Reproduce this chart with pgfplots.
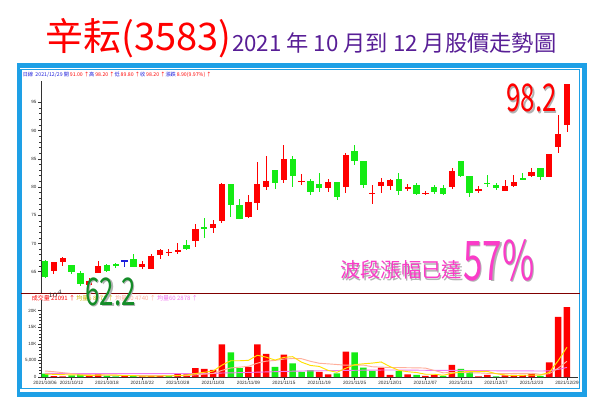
\documentclass[border=0pt]{standalone}
\usepackage{fontspec}
\setmainfont{Liberation Sans}
\newfontfamily\cjk{Noto Sans CJK TC}
\usepackage{pgfplots}
\usepackage{pgfplotstable}
\pgfplotsset{compat=1.18}

\definecolor{upred}{RGB}{255,0,0}
\definecolor{dngreen}{RGB}{20,235,20}
\definecolor{flatblue}{RGB}{30,30,220}
\definecolor{frameblue}{RGB}{30,160,230}
\definecolor{sepred}{RGB}{128,0,0}
\definecolor{titlepurple}{RGB}{88,30,150}
\definecolor{ma5}{RGB}{255,225,0}
\definecolor{ma10}{RGB}{255,175,155}
\definecolor{ma60}{RGB}{240,120,240}
\definecolor{pinktxt}{RGB}{250,60,200}
\definecolor{lowgreen}{RGB}{20,140,40}

% candles: i open high low close
\pgfplotstableread{
i o h l c
1 65.2 66.8 64.6 66.7
2 66.7 67.6 66.0 67.5
5 62.7 63.8 62.2 63.4
6 64.7 66.9 64.7 66.0
11 65.8 66.9 65.4 66.3
12 65.5 68.2 65.5 67.8
13 67.9 69.0 67.2 68.8
14 68.3 69.0 67.8 68.5
15 68.6 70.0 68.1 68.8
17 70.5 73.4 69.4 72.5
19 72.7 74.2 71.9 73.5
20 74.0 80.7 73.7 80.6
23 74.6 78.6 74.5 77.4
24 77.1 84.5 76.0 80.5
25 80.05 85.5 79.5 81.05
27 81.2 87.4 80.65 84.95
29 81.0 82.3 80.35 81.15
32 79.8 81.5 79.2 80.8
34 80.05 86.0 78.9 85.65
37 78.85 80.35 77.0 79.0
38 80.2 81.6 78.9 80.8
39 80.2 81.5 79.5 81.2
41 79.65 80.6 79.3 80.05
43 78.85 79.3 78.6 79.0
46 80.05 83.3 79.6 82.85
49 79.25 80.2 79.0 79.6
52 79.3 81.2 79.3 80.2
53 80.25 82.1 80.0 80.95
55 82.0 83.3 81.8 82.7
57 81.8 85.8 81.8 85.8
58 87.0 92.75 86.0 89.3
59 91.0 98.2 89.8 98.2
}\upcandles

\pgfplotstableread{
i o h l c
0 66.9 67.0 64.0 64.1
3 66.1 66.2 64.6 64.9
4 64.8 65.1 62.5 62.8
7 66.2 66.4 65.1 65.2
8 66.3 66.6 65.6 66.15
10 67.2 68.2 65.8 65.8
16 69.7 70.6 69.0 69.1
18 72.9 74.5 70.9 72.75
21 80.5 80.6 74.7 76.9
22 76.8 77.9 74.3 74.3
26 83.0 83.0 79.6 80.7
28 84.9 85.5 80.05 82.0
30 81.05 81.4 78.6 79.05
31 80.5 82.4 79.05 79.9
33 80.8 80.8 77.7 78.3
35 86.4 87.4 83.9 84.6
36 84.6 84.6 79.9 80.35
40 81.35 82.4 78.6 79.35
42 80.35 80.65 78.6 78.75
44 79.95 80.35 78.75 79.2
45 79.75 80.35 78.6 78.75
47 84.6 84.6 81.9 81.95
48 81.95 81.95 78.3 79.0
50 80.7 82.1 80.05 80.55
51 80.35 80.7 79.5 79.75
54 81.6 82.5 81.2 81.4
56 83.3 83.3 81.2 81.8
}\dncandles

\pgfplotstableread{
i o h l c
9 66.9 67.0 65.9 67.0
}\flatcandles

% volume
\pgfplotstableread{
i v
1 300
2 200
5 250
6 1000
9 250
11 200
12 300
13 500
15 900
16 800
17 2660
18 2450
19 2140
20 9800
23 3060
24 9800
25 6940
27 6730
31 1530
32 816
34 7650
38 2860
39 610
41 816
43 306
44 610
46 3670
49 200
50 610
52 510
53 610
54 610
55 918
57 4390
58 18150
59 21091
}\upvol

\pgfplotstableread{
i v
0 1000
3 500
4 900
7 400
8 200
10 300
14 300
21 7440
22 2660
26 3060
28 4080
29 1530
30 2040
33 1120
35 7450
36 2860
37 1840
40 1840
42 610
45 306
47 2450
48 1530
51 200
56 306
}\dnvol

\pgfplotstableread{
i a b
0 900 1800
1 800 1600
2 700 1300
3 650 1000
4 580 800
5 430 700
6 570 650
7 610 600
8 550 550
9 420 500
10 430 430
11 270 420
12 250 430
13 310 430
14 320 370
15 440 435
16 560 415
17 1032 641
18 1422 866
19 1790 1055
20 3570 2005
21 4898 2729
22 4898 2965
23 5020 3221
24 6552 4171
25 5980 4775
26 5104 5001
27 5918 5408
28 6122 5571
29 4468 5510
30 3488 4734
31 3182 4143
32 1999 3959
33 1407 3765
34 2631 3550
35 3713 3601
36 3979 3581
37 4184 3092
38 4532 2970
39 3124 2878
40 2002 2858
41 1593 2786
42 1347 2766
43 836 2684
44 836 1980
45 530 1266
46 1100 1347
47 1468 1408
48 1713 1275
49 1631 1234
50 1692 1111
51 998 1049
52 610 1039
53 426 1070
54 508 1070
55 570 1131
56 591 794
57 1367 988
58 4875 2650
59 8971 4740
}\mavol

\pgfplotstableread{
i v
0 1100
4 1050
8 1000
12 1000
16 1020
19 1050
20 1200
22 1300
24 1450
26 1600
28 1750
30 1850
32 1900
34 2000
36 2050
38 2100
40 2100
42 2050
44 2000
46 2000
48 1950
50 1900
52 1850
54 1850
56 1800
57 1850
58 2300
59 2878
}\malong

\pgfplotsset{
  wick/.style={draw=none, mark=none, forget plot,
    error bars/.cd, y dir=both, y explicit, error mark=none,
    error bar style={draw=#1, line width=0.65pt}},
  body/.style={draw=none, mark=none, forget plot,
    error bars/.cd, y dir=both, y explicit, error mark=none,
    error bar style={draw=#1, line width=4.7pt}},
}

% text with a grey shadow behind it
\newcommand\shadetext[5]{%
  \node[anchor=base west, inner sep=0, text=black!30] at (#1+1.6,#2-1.8) {#4#5};
  \node[anchor=base west, inner sep=0, text=#3] at (#1,#2) {#4#5};
}

\begin{document}
\begin{tikzpicture}[x=0.75pt, y=0.75pt]
\path[use as bounding box] (0,0) rectangle (600,404);
\fill[white] (0,0) rectangle (600,404);

% frame
\fill[frameblue] (16.5,7) rectangle (587,340.5);
\fill[white] (19.8,12.2) rectangle (581.6,336.4);
\draw[frameblue, line width=0.9pt] (21,15.2) rectangle (579.8,334.2);
\draw[sepred, line width=1pt] (21,110.5) -- (579.8,110.5);

% title
\node[anchor=base west, inner sep=0, text=upred, font=\cjk\fontsize{28.5}{30}\selectfont] at (45,353) {辛耘(3583)};
\node[anchor=base west, inner sep=0, text=titlepurple, font=\cjk\fontsize{16.7}{18}\selectfont] at (232,352) {2021 年 10 月到 12 月股價走勢圖};

% price panel
\begin{axis}[
  at={(30.75pt,83.03pt)}, anchor=south west,
  scale only axis, width=402.75pt, height=159.45pt,
  xmin=-0.452, xmax=60.25, ymin=61.17, ymax=98.83,
  axis x line=none, axis y line*=left,
  axis line style={black!80, line width=0.5pt},
  xtick=\empty,
  ytick={65,70,75,80,85,90,95},
  yticklabels={65,70,75,80,85,90,95},
  minor y tick num=4,
  tick align=outside,
  major tick length=2.2pt, minor tick length=1.2pt,
  tick style={black!80, line width=0.4pt},
  yticklabel style={font=\fontsize{3.4}{4}\selectfont, text=black!85, inner sep=1pt},
  clip=false,
]
\addplot[wick=upred] table[x=i, y=c, y error plus expr=\thisrow{h}-\thisrow{c}, y error minus expr=\thisrow{c}-\thisrow{l}] {\upcandles};
\addplot[wick=dngreen] table[x=i, y=c, y error plus expr=\thisrow{h}-\thisrow{c}, y error minus expr=\thisrow{c}-\thisrow{l}] {\dncandles};
\addplot[wick=flatblue] table[x=i, y=c, y error plus expr=\thisrow{h}-\thisrow{c}, y error minus expr=\thisrow{c}-\thisrow{l}] {\flatcandles};
\addplot[body=upred] table[x=i, y expr=(\thisrow{o}+\thisrow{c})/2, y error expr=abs(\thisrow{c}-\thisrow{o})/2] {\upcandles};
\addplot[body=dngreen] table[x=i, y expr=(\thisrow{o}+\thisrow{c})/2, y error expr=abs(\thisrow{c}-\thisrow{o})/2] {\dncandles};
\addplot[body=flatblue] table[x=i, y expr=(\thisrow{o}+\thisrow{c})/2, y error expr=abs(\thisrow{c}-\thisrow{o})/2] {\flatcandles};
\end{axis}

% volume panel
\begin{axis}[
  at={(30.75pt,20.25pt)}, anchor=south west,
  scale only axis, width=402.75pt, height=57.75pt,
  xmin=-0.452, xmax=60.25, ymin=0, ymax=23200,
  axis x line*=bottom, axis y line*=left,
  axis line style={black!80, line width=0.5pt},
  ybar, bar width=0.74,
  xtick={0,3,7,11,15,19,23,27,31,35,39,43,47,51,55,59},
  xticklabels={2021/10/06,2021/10/12,2021/10/18,2021/10/22,2021/10/28,2021/11/03,2021/11/09,2021/11/15,2021/11/19,2021/11/25,2021/12/01,2021/12/07,2021/12/13,2021/12/17,2021/12/23,2021/12/29},
  ytick={0,5000,10000,15000,20000},
  yticklabels={0,{5,000},10K,15K,20K},
  minor y tick num=4,
  tick align=outside,
  major tick length=2.2pt, minor tick length=1.2pt,
  tick style={black!80, line width=0.4pt},
  yticklabel style={font=\fontsize{3.4}{4}\selectfont, text=black!85, inner sep=1pt},
  xticklabel style={font=\fontsize{3.5}{4}\selectfont, text=black!85, inner sep=1pt},
  clip=false,
]
\addplot[fill=upred, draw=none, bar shift=0pt] table[x=i, y=v] {\upvol};
\addplot[fill=dngreen, draw=none, bar shift=0pt] table[x=i, y=v] {\dnvol};
\addplot[sharp plot, ma60, line width=0.7pt, mark=none] table[x=i, y=v] {\malong};
\addplot[sharp plot, ma10, line width=0.7pt, mark=none] table[x=i, y=b] {\mavol};
\addplot[sharp plot, ma5, line width=0.7pt, mark=none] table[x=i, y=a] {\mavol};
\end{axis}

% panel headers
\node[anchor=base west, inner sep=0, font=\cjk\fontsize{3.9}{5}\selectfont] at (22.5,327) {\textcolor{flatblue}{日線\ \ 2021/12/29 開}\,\textcolor{upred}{91.00 ↑}\textcolor{flatblue}{高}\,\textcolor{upred}{98.20 ↑}\textcolor{flatblue}{低}\,\textcolor{upred}{89.80 ↑}\textcolor{flatblue}{收}\,\textcolor{upred}{98.20 ↑}\textcolor{flatblue}{漲跌}\,\textcolor{upred}{8.90(9.97\%) ↑}};
\node[anchor=base west, inner sep=0, font=\cjk\fontsize{4.5}{5}\selectfont] at (31.5,104) {\textcolor{upred}{成交量 21091 ↑}\ \textcolor{ma5!80!black}{均量5 8971 ↑}\ \textcolor{ma10}{均量10 4740 ↑}\ \textcolor{ma60}{均量60 2878 ↑}};

% annotations
\shadetext{506}{292.3}{upred}{\cjk\fontsize{28.6}{30}\selectfont}{\scalebox{0.68}[1]{98.2}}
\shadetext{85}{99}{lowgreen}{\cjk\fontsize{28.6}{30}\selectfont}{\scalebox{0.68}[1]{62.2}}
\shadetext{340}{126.5}{pinktxt}{\cjk\fontsize{15.2}{16}\selectfont}{波段漲幅已達}
\shadetext{463}{124}{pinktxt}{\cjk\fontsize{41}{42}\selectfont}{\scalebox{0.64}[1]{57\%}}
\end{tikzpicture}
\end{document}
